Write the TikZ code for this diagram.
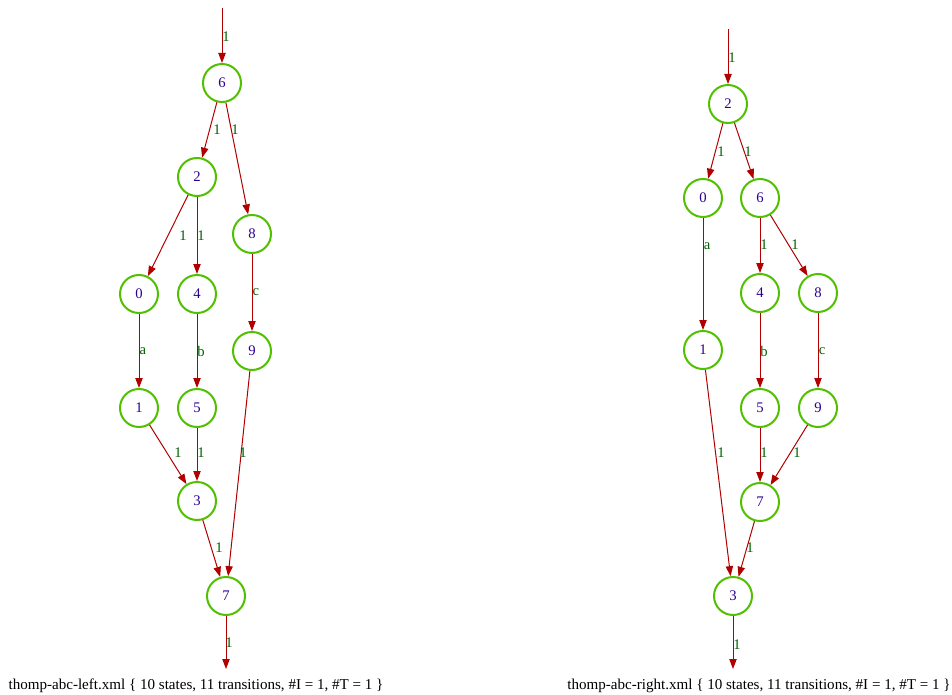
\documentclass[tikz,border=0pt]{standalone}
\usepackage{fontspec}
\setmainfont{Liberation Serif}
\usetikzlibrary{arrows.meta}
\definecolor{stgreen}{HTML}{50C000}
\definecolor{sttext}{HTML}{2A0090}
\definecolor{edred}{HTML}{B00000}
\definecolor{lbgreen}{HTML}{006000}
\begin{document}
\begin{tikzpicture}[x=0.75pt,y=-0.75pt,
  state/.style={circle,draw=stgreen,line width=1.5pt,minimum size=28.5pt,inner sep=0pt,text=sttext,font=\fontsize{11}{13}\selectfont},
  tr/.style={draw=edred,line width=0.75pt,-{Triangle[length=7.5pt,width=5.5pt]},shorten >=0pt},
  lb/.style={text=lbgreen,font=\fontsize{11}{13}\selectfont,inner sep=0pt},
  captext/.style={font=\fontsize{11.3}{13}\selectfont,inner sep=0pt}]
\useasboundingbox (0,0) rectangle (952,695);
% left automaton
\node[state] (L6) at (222,83) {6};
\node[state] (L2) at (197,177) {2};
\node[state] (L8) at (252,234) {8};
\node[state] (L0) at (139,294) {0};
\node[state] (L4) at (197,294) {4};
\node[state] (L9) at (252,351) {9};
\node[state] (L1) at (139,408) {1};
\node[state] (L5) at (197,408) {5};
\node[state] (L3) at (197,501) {3};
\node[state] (L7) at (226,596) {7};
\coordinate (Lin) at (222,8);
\coordinate (Lout) at (226,669);
\draw[tr] (Lin) -- (L6) node[lb] at (226,37) {1};
\draw[tr] (L6) -- (L2) node[lb] at (217,130) {1};
\draw[tr] (L6) -- (L8) node[lb] at (235,130) {1};
\draw[tr] (L2) -- (L0) node[lb] at (183,236) {1};
\draw[tr] (L2) -- (L4) node[lb] at (201,236) {1};
\draw[tr] (L8) -- (L9) node[lb] at (256,292) {c};
\draw[tr] (L0) -- (L1) node[lb] at (143,351) {a};
\draw[tr] (L4) -- (L5) node[lb] at (201,351) {b};
\draw[tr] (L1) -- (L3) node[lb] at (178,453) {1};
\draw[tr] (L5) -- (L3) node[lb] at (201,453) {1};
\draw[tr] (L9) -- (L7) node[lb] at (243,453) {1};
\draw[tr] (L3) -- (L7) node[lb] at (219,548) {1};
\draw[tr] (L7) -- (Lout) node[lb] at (229,643) {1};
\node[captext] (Lcap) at (196,686) {thomp-abc-left.xml \{ 10 states, 11 transitions, \#I = 1, \#T = 1 \}};
% right automaton
\node[state] (R2) at (728,104) {2};
\node[state] (R0) at (703,198) {0};
\node[state] (R6) at (760,198) {6};
\node[state] (R4) at (760,293) {4};
\node[state] (R8) at (818,293) {8};
\node[state] (R1) at (703,350) {1};
\node[state] (R5) at (760,408) {5};
\node[state] (R9) at (818,408) {9};
\node[state] (R7) at (760,502) {7};
\node[state] (R3) at (733,596) {3};
\coordinate (Rin) at (728,29);
\coordinate (Rout) at (733,669);
\draw[tr] (Rin) -- (R2) node[lb] at (732,58) {1};
\draw[tr] (R2) -- (R0) node[lb] at (721,152) {1};
\draw[tr] (R2) -- (R6) node[lb] at (748,152) {1};
\draw[tr] (R6) -- (R4) node[lb] at (764,245) {1};
\draw[tr] (R6) -- (R8) node[lb] at (795,245) {1};
\draw[tr] (R0) -- (R1) node[lb] at (707,246) {a};
\draw[tr] (R4) -- (R5) node[lb] at (764,351) {b};
\draw[tr] (R8) -- (R9) node[lb] at (822,351) {c};
\draw[tr] (R1) -- (R3) node[lb] at (721,453) {1};
\draw[tr] (R5) -- (R7) node[lb] at (764,453) {1};
\draw[tr] (R9) -- (R7) node[lb] at (797,453) {1};
\draw[tr] (R7) -- (R3) node[lb] at (750,548) {1};
\draw[tr] (R3) -- (Rout) node[lb] at (737,645) {1};
\node[captext] (Rcap) at (759,686) {thomp-abc-right.xml \{ 10 states, 11 transitions, \#I = 1, \#T = 1 \}};
\end{tikzpicture}
\end{document}
